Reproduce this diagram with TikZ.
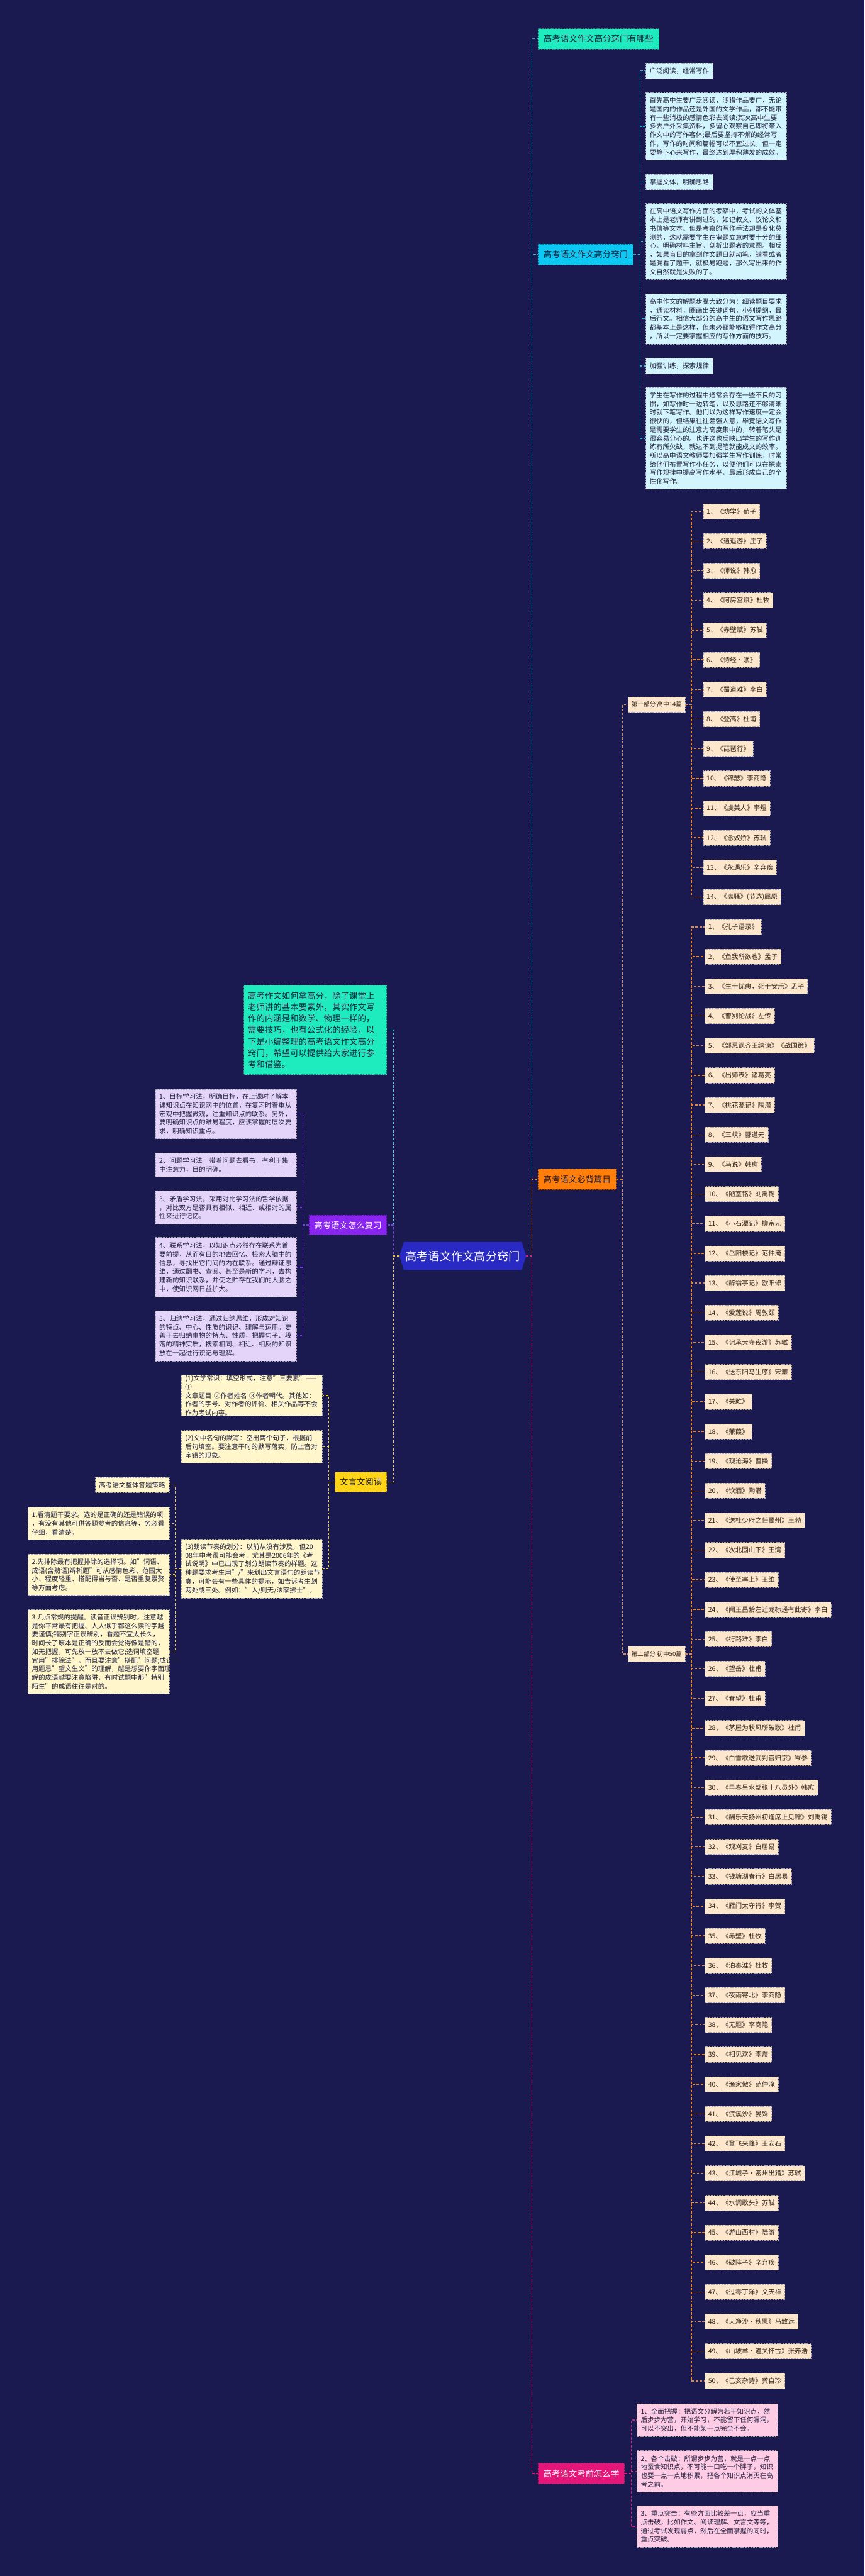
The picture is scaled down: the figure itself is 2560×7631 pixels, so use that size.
\documentclass[tikz,border=0pt]{standalone}
\usepackage{fontspec}
\setmainfont{Noto Sans CJK SC}
\usetikzlibrary{calc}
\newcommand\fsz[2]{\fontsize{#1}{#2}\selectfont}
\definecolor{bg}{HTML}{1A1A50}
\definecolor{mint}{HTML}{1EEBBE}
\definecolor{cyanb}{HTML}{0CC8F2}
\definecolor{cyanl}{HTML}{D2F5FD}
\definecolor{cyanln}{HTML}{23B5E8}
\definecolor{orng}{HTML}{FF7F0A}
\definecolor{peach}{HTML}{FCE6CC}
\definecolor{orln}{HTML}{E8882E}
\definecolor{pinkb}{HTML}{E5157A}
\definecolor{pinkl}{HTML}{FFCCE6}
\definecolor{pinkln}{HTML}{D8207A}
\definecolor{rootb}{HTML}{2929C4}
\definecolor{purp}{HTML}{8A24F0}
\definecolor{purpl}{HTML}{E4D4FA}
\definecolor{purpln}{HTML}{7A38E8}
\definecolor{yel}{HTML}{FFD416}
\definecolor{yell}{HTML}{FFF6CC}
\definecolor{yelln}{HTML}{F0C830}
\definecolor{tealln}{HTML}{34D8D8}
\definecolor{ink}{HTML}{1E1E3C}
\tikzset{
  bdr/.style={line width=1.2pt, dash pattern=on 5pt off 3pt},
  hdr/.style={bdr, font=\fsz{25}{30}, inner sep=0pt, text=ink},
  blk/.style={bdr, font=\fsz{19.6}{25.6}, align=left, inner xsep=11pt, inner ysep=0pt, text=ink, text width=#1},
  cyblk/.style={blk=#1, fill=cyanl, draw=gray!70},
  pkblk/.style={blk=#1, fill=pinkl, draw=gray!70},
  publk/.style={blk=#1, fill=purpl, draw=gray!70},
  yeblk/.style={blk=#1, fill=yell, draw=gray!70},
  itm/.style={bdr, fill=peach, draw=gray!70, font=\fsz{19.5}{22}, inner xsep=10pt, inner ysep=0pt, minimum height=45pt, text={rgb,255:red,50;green,35;blue,25}},
  con/.style={line width=2.6pt, dash pattern=on 7pt off 5pt},
}
\begin{document}
\begin{tikzpicture}[x=1pt,y=-1pt]
\fill[bg] (0,0) rectangle (2560,7631);
\useasboundingbox (0,0) rectangle (2560,7631);

% ---------- root ----------
\fill[rootb] (1196,3679) -- (1545,3679) -- (1558,3720.5) -- (1545,3762) -- (1196,3762) -- (1183,3720.5) -- cycle;
\node[font=\fsz{34}{40}, text=white, minimum width=375pt, minimum height=83pt, inner sep=0pt] (root) at (1370.5,3720.5) {高考语文作文高分窍门};

% ---------- right branches ----------
\node[hdr, fill=mint, draw=mint!60!black, minimum width=358pt, minimum height=60pt, anchor=west] (A) at (1593,115) {高考语文作文高分窍门有哪些};
\node[hdr, fill=cyanb, draw=cyanb!60!black, minimum width=282pt, minimum height=62pt, anchor=west] (B) at (1593,754) {高考语文作文高分窍门};

\node[cyblk=177pt, minimum height=46pt, anchor=west] (b1) at (1912,210) {广泛阅读，经常写作};
\node[cyblk=395pt, minimum height=199pt, anchor=west] (b2) at (1912,374.5) {首先高中生要广泛阅读，涉猎作品要广，无论\\是国内的作品还是外国的文学作品，都不能带\\有一些消极的感情色彩去阅读;其次高中生要\\多去户外采集资料，多留心观察自己即将带入\\作文中的写作客体;最后要坚持不懈的经常写\\作，写作的时间和篇幅可以不宜过长，但一定\\要静下心来写作，最终达到厚积薄发的成效。};
\node[cyblk=177pt, minimum height=46pt, anchor=west] (b3) at (1912,539) {掌握文体，明确思路};
\node[cyblk=395pt, minimum height=225pt, anchor=west] (b4) at (1912,715.5) {在高中语文写作方面的考察中，考试的文体基\\本上是老师有讲到过的，如记叙文、议论文和\\书信等文本。但是考察的写作手法却是变化莫\\测的，这就需要学生在审题立意时要十分的细\\心，明确材料主旨，剖析出题者的意图。相反\\，如果盲目的拿到作文题目就动笔，错看或者\\是漏看了题干，就极易跑题，那么写出来的作\\文自然就是失败的了。};
\node[cyblk=395pt, minimum height=149pt, anchor=west] (b5) at (1912,944.5) {高中作文的解题步骤大致分为：细读题目要求\\，通读材料，圈画出关键词句，小列提纲，最\\后行文。相信大部分的高中生的语文写作思路\\都基本上是这样，但未必都能够取得作文高分\\，所以一定要掌握相应的写作方面的技巧。};
\node[cyblk=177pt, minimum height=46pt, anchor=west] (b6) at (1912,1084) {加强训练，探索规律};
\node[cyblk=395pt, minimum height=301pt, anchor=west] (b7) at (1912,1298.5) {学生在写作的过程中通常会存在一些不良的习\\惯，如写作时一边转笔，以及思路还不够清晰\\时就下笔写作。他们以为这样写作速度一定会\\很快的，但结果往往差强人意，毕竟语文写作\\是需要学生的注意力高度集中的，转着笔头是\\很容易分心的。也许这也反映出学生的写作训\\练有所欠缺，就达不到提笔就能成文的效率。\\所以高中语文教师要加强学生写作训练，时常\\给他们布置写作小任务，以便他们可以在探索\\写作规律中提高写作水平，最后形成自己的个\\性化写作。};

\node[hdr, fill=orng, draw=orng!60!black, minimum width=231pt, minimum height=60pt, anchor=west] (C) at (1593,3493) {高考语文必背篇目};
\node[itm, font=\fsz{18}{22}, inner xsep=9pt, minimum height=46pt, anchor=west] (P1) at (1860,2087) {第一部分 高中14篇};
\node[itm, font=\fsz{18}{22}, inner xsep=9pt, minimum height=46pt, anchor=west] (P2) at (1860,4900) {第二部分 初中50篇};

\foreach \t [count=\i] in {{1、《劝学》荀子},{2、《逍遥游》庄子},{3、《师说》韩愈},{4、《阿房宫赋》杜牧},{5、《赤壁赋》苏轼},{6、《诗经·氓》},{7、《蜀道难》李白},{8、《登高》杜甫},{9、《琵琶行》},{10、《锦瑟》李商隐},{11、《虞美人》李煜},{12、《念奴娇》苏轼},{13、《永遇乐》辛弃疾},{14、《离骚》(节选)屈原}} {
  \node[itm, anchor=west] (a\i) at (2082,{1515+87.9*(\i-1)}) {\t};
}
\foreach \t [count=\i] in {{1、《孔子语录》},{2、《鱼我所欲也》孟子},{3、《生于忧患，死于安乐》孟子},{4、《曹刿论战》左传},{5、《邹忌讽齐王纳谏》《战国策》},{6、《出师表》诸葛亮},{7、《桃花源记》陶潜},{8、《三峡》郦道元},{9、《马说》韩愈},{10、《陋室铭》刘禹锡},{11、《小石潭记》柳宗元},{12、《岳阳楼记》范仲淹},{13、《醉翁亭记》欧阳修},{14、《爱莲说》周敦颐},{15、《记承天寺夜游》苏轼},{16、《送东阳马生序》宋濂},{17、《关雎》},{18、《蒹葭》},{19、《观沧海》曹操},{20、《饮酒》陶潜},{21、《送杜少府之任蜀州》王勃},{22、《次北固山下》王湾},{23、《使至塞上》王维},{24、《闻王昌龄左迁龙标遥有此寄》李白},{25、《行路难》李白},{26、《望岳》杜甫},{27、《春望》杜甫},{28、《茅屋为秋风所破歌》杜甫},{29、《白雪歌送武判官归京》岑参},{30、《早春呈水部张十八员外》韩愈},{31、《酬乐天扬州初逢席上见赠》刘禹锡},{32、《观刈麦》白居易},{33、《钱塘湖春行》白居易},{34、《雁门太守行》李贺},{35、《赤壁》杜牧},{36、《泊秦淮》杜牧},{37、《夜雨寄北》李商隐},{38、《无题》李商隐},{39、《相见欢》李煜},{40、《渔家傲》范仲淹},{41、《浣溪沙》晏殊},{42、《登飞来峰》王安石},{43、《江城子·密州出猎》苏轼},{44、《水调歌头》苏轼},{45、《游山西村》陆游},{46、《破阵子》辛弃疾},{47、《过零丁洋》文天祥},{48、《天净沙·秋思》马致远},{49、《山坡羊·潼关怀古》张养浩},{50、《己亥杂诗》龚自珍}} {
  \node[itm, anchor=west] (c\i) at (2087,{2746+87.9*(\i-1)}) {\t};
}

\node[hdr, fill=pinkb, draw=pinkb!60!black, text=white, minimum width=256pt, minimum height=61pt, anchor=west] (D) at (1593,7327) {高考语文考前怎么学};
\node[pkblk=395pt, minimum height=97pt, anchor=west] (d1) at (1886,7169) {1、全面把握：把语文分解为若干知识点，然\\后步步为营，开始学习，不能留下任何漏洞，\\可以不突出，但不能某一点完全不会。};
\node[pkblk=395pt, minimum height=123pt, anchor=west] (d2) at (1886,7321) {2、各个击破：所谓步步为营，就是一点一点\\地蚕食知识点，不可能一口吃一个胖子，知识\\也要一点一点地积累，把各个知识点消灭在高\\考之前。};
\node[pkblk=395pt, minimum height=123pt, anchor=west] (d3) at (1886,7484) {3、重点突击：有些方面比较差一点，应当重\\点击破，比如作文、阅读理解、文言文等等，\\通过考试发现弱点，然后在全面掌握的同时，\\重点突破。};

% ---------- left branches ----------
\node[bdr, fill=mint, draw=mint!60!black, font=\fsz{25}{34}, align=left, text=ink, inner xsep=12pt, inner ysep=0pt, text width=399pt, minimum height=264pt, anchor=east] (intro) at (1146,3051) {高考作文如何拿高分，除了课堂上\\老师讲的基本要素外，其实作文写\\作的内涵是和数学、物理一样的，\\需要技巧，也有公式化的经验，以\\下是小编整理的高考语文作文高分\\窍门，希望可以提供给大家进行参\\考和借鉴。};

\node[hdr, fill=purp, draw=purp!60!black, text=white, minimum width=230pt, minimum height=58pt, anchor=east] (Pu) at (1146,3629) {高考语文怎么复习};
\node[publk=396pt, minimum height=147pt, anchor=east] (p1) at (879,3300) {1、目标学习法，明确目标，在上课时了解本\\课知识点在知识网中的位置，在复习时着重从\\宏观中把握微观，注重知识点的联系。另外，\\要明确知识点的难易程度，应该掌握的层次要\\求，明确知识重点。};
\node[publk=396pt, minimum height=72pt, anchor=east] (p2) at (879,3451) {2、问题学习法，带着问题去看书，有利于集\\中注意力，目的明确。};
\node[publk=396pt, minimum height=98pt, anchor=east] (p3) at (879,3577) {3、矛盾学习法，采用对比学习法的哲学依据\\，对比双方是否具有相似、相近、或相对的属\\性来进行记忆。};
\node[publk=396pt, minimum height=176pt, anchor=east] (p4) at (879,3754) {4、联系学习法，以知识点必然存在联系为首\\要前提，从而有目的地去回忆、检索大脑中的\\信息，寻找出它们间的内在联系。通过辩证思\\维，通过翻书、查阅、甚至是新的学习，去构\\建新的知识联系，并使之贮存在我们的大脑之\\中，使知识网日益扩大。};
\node[publk=396pt, minimum height=149pt, anchor=east] (p5) at (879,3957) {5、归纳学习法，通过归纳思维，形成对知识\\的特点、中心、性质的识记、理解与运用。要\\善于去归纳事物的特点、性质，把握句子、段\\落的精神实质，搜索相同、相近、相反的知识\\放在一起进行识记与理解。};

\node[hdr, fill=yel, draw=yel!60!black, minimum width=153pt, minimum height=59pt, anchor=east] (Y) at (1146,4390) {文言文阅读};
\node[yeblk=395pt, minimum height=121pt, anchor=east] (y1) at (955,4134) {(1)文学常识：填空形式，注意"三要素"——①\\文章题目 ②作者姓名 ③作者朝代。其他如：\\作者的字号、对作者的评价、相关作品等不会\\作为考试内容。};
\node[yeblk=395pt, minimum height=97pt, anchor=east] (y2) at (955,4286) {(2)文中名句的默写：空出两个句子，根据前\\后句填空。要注意平时的默写落实，防止音对\\字错的现象。};
\node[yeblk=395pt, minimum height=174pt, anchor=east] (y3) at (955,4647) {(3)朗读节奏的划分：以前从没有涉及，但20\\08年中考很可能会考，尤其是2006年的《考\\试说明》中已出现了划分朗读节奏的样题。这\\种题要求考生用"/"来划出文言语句的朗读节\\奏，可能会有一些具体的提示，如告诉考生划\\两处或三处。例如："入/则无/法家拂士"。};

\node[yeblk=197pt, minimum height=45pt, anchor=east] (g0) at (502,4399) {高考语文整体答题策略};
\node[yeblk=396pt, minimum height=96pt, anchor=east] (g1) at (502,4513) {1.看清题干要求。选的是正确的还是错误的项\\，有没有其他可供答题参考的信息等，务必看\\仔细，看清楚。};
\node[yeblk=396pt, minimum height=122pt, anchor=east] (g2) at (502,4665) {2.先排除最有把握排除的选择项。如"词语、\\成语(含熟语)辨析题"可从感情色彩、范围大\\小、程度轻重、搭配得当与否、是否重复累赘\\等方面考虑。};
\node[yeblk=396pt, minimum height=249pt, anchor=east] (g3) at (502,4893) {3.几点常规的提醒。读音正误辨别时，注意越\\是你平常最有把握、人人似乎都这么读的字越\\要谨慎;错别字正误辨别，看题不宜太长久，\\时间长了原本是正确的反而会觉得像是错的，\\如无把握，可先放一放不去做它;选词填空题\\宜用"排除法"，而且要注意"搭配"问题;成语使\\用题忌"望文生义"的理解，越是想要你字面理\\解的成语越要注意陷阱，有时试题中那"特别\\陌生"的成语往往是对的。};

% ---------- connectors ----------
\draw[con, cyanln] (root.east) -- ++(17,0) |- (A.west);
\draw[con, cyanln] (root.east) -- ++(17,0) |- (B.west);
\draw[con, orln] (root.east) -- ++(17,0) |- (C.west);
\draw[con, pinkln] (root.east) -- ++(17,0) |- (D.west);

\foreach \n in {b1,b2,b3,b4,b5,b6,b7} \draw[con, cyanln] (B.east) -- ++(19,0) |- (\n.west);
\draw[con, orln] (C.east) -- ++(18,0) |- (P1.west);
\draw[con, orln] (C.east) -- ++(18,0) |- (P2.west);
\foreach \i in {1,...,14} \draw[con, orln] (P1.east) -- ++(18,0) |- (a\i.west);
\foreach \i in {1,...,50} \draw[con, orln] (P2.east) -- ++(18,0) |- (c\i.west);
\foreach \n in {d1,d2,d3} \draw[con, pinkln] (D.east) -- ++(19,0) |- (\n.west);

\draw[con, tealln] (root.west) -- ++(-18,0) |- (intro.east);
\draw[con, purpln] (root.west) -- ++(-18,0) |- (Pu.east);
\draw[con, yelln] (root.west) -- ++(-18,0) |- (Y.east);
\foreach \n in {p1,p2,p3,p4,p5} \draw[con, purpln] (Pu.west) -- ++(-18,0) |- (\n.east);
\foreach \n in {y1,y2,y3} \draw[con, yelln] (Y.west) -- ++(-18,0) |- (\n.east);
\foreach \n in {g0,g1,g2,g3} \draw[con, yelln] (y3.west) -- ++(-18,0) |- (\n.east);
\end{tikzpicture}
\end{document}
